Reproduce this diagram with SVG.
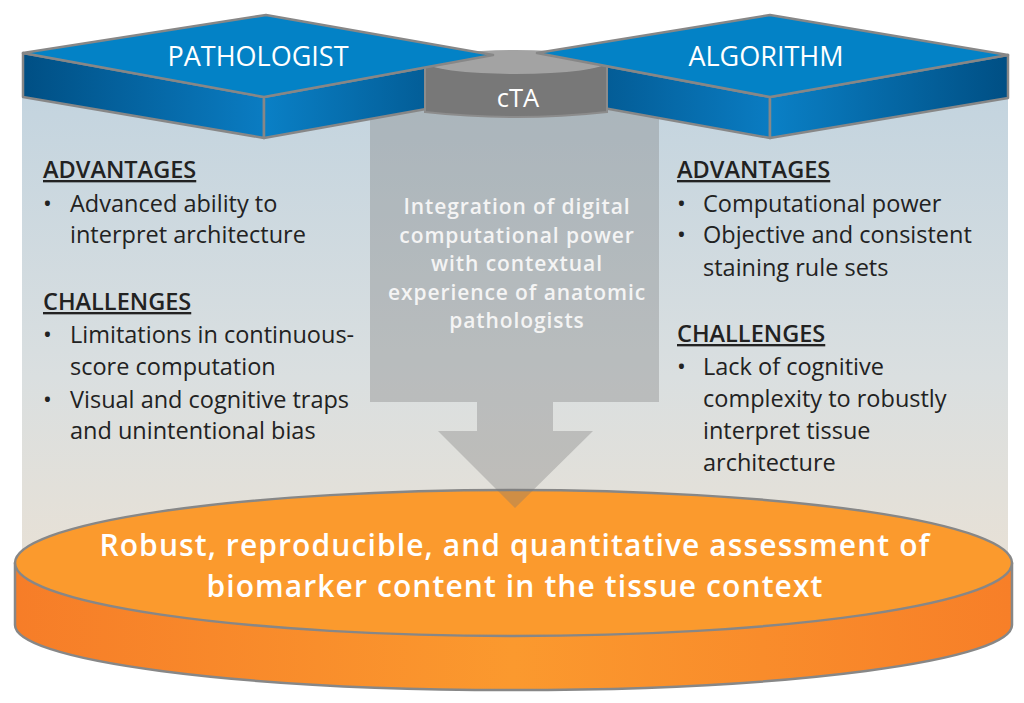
<svg xmlns="http://www.w3.org/2000/svg" width="1024" height="703" viewBox="0 0 1024 703">
<defs>
<linearGradient id="panel" x1="0" y1="0" x2="0" y2="1">
<stop offset="0" stop-color="#c3d4df"/>
<stop offset="0.55" stop-color="#dadfe0"/>
<stop offset="1" stop-color="#ebe1d3"/>
</linearGradient>
<linearGradient id="slabL" x1="0" y1="0" x2="1" y2="0">
<stop offset="0" stop-color="#004f84"/>
<stop offset="1" stop-color="#0a7cc2"/>
</linearGradient>
<linearGradient id="slabR" x1="0" y1="0" x2="1" y2="0">
<stop offset="0" stop-color="#0a80c6"/>
<stop offset="1" stop-color="#004f84"/>
</linearGradient>
<linearGradient id="orangeSide" x1="0" y1="0" x2="1" y2="0">
<stop offset="0" stop-color="#f67d28"/>
<stop offset="0.5" stop-color="#fb992e"/>
<stop offset="1" stop-color="#f77f28"/>
</linearGradient>
<style>
.edge{stroke:#878787;stroke-width:2.5;stroke-linejoin:round}
.top{fill:#0382c6}
.head{font-family:"Open Sans","Liberation Sans",sans-serif;font-size:27px;fill:#ffffff;text-anchor:middle}
.sec{font-family:"Open Sans","Liberation Sans",sans-serif;font-size:23.5px;font-weight:600;fill:#222222;text-decoration:underline}
.body{font-family:"Open Sans","Liberation Sans",sans-serif;font-size:23.5px;fill:#222222}
.mid{font-family:"Open Sans","Liberation Sans",sans-serif;font-size:21px;letter-spacing:0.9px;font-weight:600;fill:#f4f4f4;text-anchor:middle}
.big{font-family:"Open Sans","Liberation Sans",sans-serif;font-size:30px;letter-spacing:1.1px;font-weight:600;fill:#ffffff;text-anchor:middle}
</style>
</defs>
<rect id="panel-bg" x="22" y="90" width="986" height="520" fill="url(#panel)"/>
<g id="outcome">
<path d="M15,563 V625 A498.5,65 0 0 0 1012,625 V563 Z" fill="url(#orangeSide)" class="edge" stroke-width="3"/>
<ellipse cx="513.5" cy="563" rx="498.5" ry="73" fill="#fb9a2d" class="edge" stroke-width="3"/>
</g>
<g id="connectors">
<path d="M370,100 H659 V402 H553 V431 H593 L515,508 L438,431 H477 V402 H370 Z" fill="#757575" fill-opacity="0.33"/>
</g>
<g id="pathologist-slab">
<path d="M23,53 L264,97 L264,138 L23,97 Z" fill="url(#slabL)" class="edge"/>
<path d="M264,97 L493,55 L493,97 L264,138 Z" fill="url(#slabR)" class="edge"/>
</g>
<g id="algorithm-slab">
<path d="M537,53 L770,97 L770,138 L537,96 Z" fill="url(#slabL)" class="edge"/>
<path d="M770,97 L1008,55 L1008,98 L770,138 Z" fill="url(#slabR)" class="edge"/>
</g>
<g id="cta">
<path d="M425,62 V112 Q516,122 607,112 V62 Z" fill="#787878" stroke="#8c8c8c" stroke-width="2"/>
<ellipse cx="516" cy="62" rx="91" ry="12" fill="#a3a3a3"/>
<text x="518" y="107" font-family="'Open Sans','Liberation Sans',sans-serif" font-size="25.5" fill="#ffffff" text-anchor="middle">cTA</text>
</g>
<g id="pathologist">
<path d="M266,15 L493,55 L264,97 L23,53 Z" class="top edge"/>
<text class="head" x="258" y="66">PATHOLOGIST</text>
</g>
<g id="algorithm">
<path d="M770,15 L1008,55 L770,97 L537,53 Z" class="top edge"/>
<text class="head" x="766" y="66">ALGORITHM</text>
</g>
<g id="integration">
<text class="mid" x="517" y="214">Integration of digital</text>
<text class="mid" x="517" y="242.5">computational power</text>
<text class="mid" x="517" y="271">with contextual</text>
<text class="mid" x="517" y="299.5">experience of anatomic</text>
<text class="mid" x="517" y="328">pathologists</text>
</g>
<g id="pathologist-notes">
<text class="sec" x="43" y="178">ADVANTAGES</text>
<text class="body" x="43" y="212">•</text><text class="body" x="70" y="212">Advanced ability to</text>
<text class="body" x="70" y="243">interpret architecture</text>
<text class="sec" x="43" y="310">CHALLENGES</text>
<text class="body" x="43" y="343">•</text><text class="body" x="70" y="343">Limitations in continuous-</text>
<text class="body" x="70" y="375">score computation</text>
<text class="body" x="43" y="408">•</text><text class="body" x="70" y="408">Visual and cognitive traps</text>
<text class="body" x="70" y="439">and unintentional bias</text>
</g>
<g id="algorithm-notes">
<text class="sec" x="677" y="178">ADVANTAGES</text>
<text class="body" x="677" y="212">•</text><text class="body" x="703" y="212">Computational power</text>
<text class="body" x="677" y="243">•</text><text class="body" x="703" y="243">Objective and consistent</text>
<text class="body" x="703" y="276">staining rule sets</text>
<text class="sec" x="677" y="342">CHALLENGES</text>
<text class="body" x="677" y="375">•</text><text class="body" x="703" y="375">Lack of cognitive</text>
<text class="body" x="703" y="407">complexity to robustly</text>
<text class="body" x="703" y="439">interpret tissue</text>
<text class="body" x="703" y="471">architecture</text>
</g>
<g id="outcome-text">
<text class="big" x="515" y="556">Robust, reproducible, and quantitative assessment of</text>
<text class="big" x="515" y="597">biomarker content in the tissue context</text>
</g>
</svg>
